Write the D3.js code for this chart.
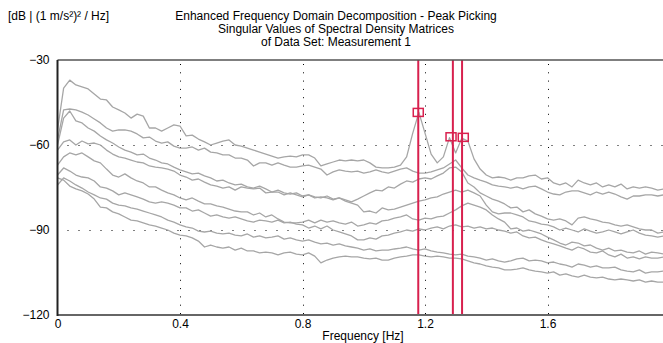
<!DOCTYPE html>
<html>
<head>
<meta charset="utf-8">
<script src="https://cdn.jsdelivr.net/npm/d3@7"></script>
<style>
  html, body { margin: 0; padding: 0; background: #fff; }
  svg text { font-family: "Liberation Sans", Arial, sans-serif; fill: #000; }
</style>
</head>
<body>
<div id="chart"></div>
<script>
// titles and labels
const titleLines = [
  'Enhanced Frequency Domain Decomposition - Peak Picking',
  'Singular Values of Spectral Density Matrices',
  'of Data Set: Measurement 1'
];
const unitLabel = '[dB | (1 m/s\u00b2)\u00b2 / Hz]';
const xLabel = 'Frequency [Hz]';

const xTicks = [0, 0.4, 0.8, 1.2, 1.6];
const yTicks = [-30, -60, -90, -120];
const gridX = [0.4, 0.8, 1.2, 1.6];
const gridY = [-60, -90];

// spectral lines: one value every 0.02 Hz, starting at 0 Hz
const df = 0.02;

const sv1 = [-54.7,-39.9,-37.1,-38.8,-39.5,-40.2,-42.0,-43.8,-44.1,-46.6,
  -47.6,-48.7,-50.5,-49.1,-49.8,-54.0,-54.0,-55.1,-54.0,-52.9,
  -53.3,-56.8,-56.5,-57.9,-58.9,-60.0,-59.3,-58.6,-58.2,-60.0,
  -60.4,-61.1,-61.8,-62.5,-63.2,-63.9,-64.6,-64.2,-63.9,-64.2,
  -63.5,-63.5,-64.6,-67.4,-66.7,-66.0,-65.3,-65.6,-65.3,-65.6,
  -65.3,-66.3,-67.8,-68.1,-68.1,-67.8,-67.1,-64.2,-55.8,-48.5,
  -55.8,-63.2,-66.3,-64.2,-57.4,-62.8,-57.6,-58.6,-64.9,-68.5,
  -70.6,-71.6,-71.3,-71.6,-72.4,-71.6,-71.6,-70.9,-70.6,-72.0,
  -71.6,-73.4,-74.1,-73.4,-74.8,-72.4,-73.4,-74.1,-73.4,-74.8,
  -74.1,-74.8,-73.8,-75.5,-74.8,-75.2,-74.8,-75.2,-75.9,-75.5];

const sv2 = [-58.2,-47.6,-47.3,-47.6,-48.4,-49.4,-50.8,-52.2,-54.0,-55.1,
  -54.7,-54.7,-55.1,-56.1,-57.5,-57.2,-58.6,-59.3,-58.9,-60.4,
  -61.1,-61.1,-60.7,-61.8,-61.1,-62.5,-62.8,-63.5,-63.5,-64.6,
  -64.6,-65.3,-67.4,-66.3,-66.3,-67.1,-66.3,-67.1,-67.8,-67.8,
  -67.4,-67.1,-67.8,-68.5,-70.6,-69.5,-68.8,-69.2,-69.5,-69.2,
  -69.9,-69.5,-68.8,-69.5,-69.9,-69.2,-68.5,-68.1,-69.2,-69.9,
  -69.9,-69.5,-68.8,-68.1,-66.7,-65.3,-68.1,-70.6,-71.6,-72.4,
  -73.1,-74.1,-74.5,-74.8,-75.2,-74.8,-75.5,-74.8,-74.5,-75.5,
  -76.6,-77.3,-77.6,-76.6,-76.2,-76.2,-76.9,-77.6,-76.6,-77.3,
  -76.6,-77.3,-78.3,-79.1,-78.0,-78.0,-77.6,-77.6,-78.0,-77.6];

const sv3 = [-60.0,-50.5,-48.0,-51.5,-52.2,-54.0,-55.1,-56.8,-58.2,-59.3,
  -60.7,-61.8,-62.5,-63.5,-63.2,-64.6,-65.3,-66.3,-66.7,-67.8,
  -68.8,-69.5,-70.2,-69.9,-70.9,-71.6,-72.7,-72.4,-73.4,-74.1,
  -73.8,-74.8,-75.2,-74.5,-75.5,-76.6,-75.9,-76.9,-77.3,-76.9,
  -78.0,-77.6,-78.3,-78.7,-78.0,-79.1,-78.7,-79.4,-80.1,-79.1,
  -78.0,-76.9,-75.9,-76.2,-74.8,-75.2,-73.8,-72.7,-73.1,-72.0,
  -71.6,-72.0,-70.9,-69.9,-68.1,-67.8,-69.5,-73.4,-74.8,-76.9,
  -78.0,-79.1,-79.8,-80.8,-82.2,-81.9,-83.6,-82.9,-84.3,-85.1,
  -86.1,-86.5,-86.1,-86.8,-88.2,-85.8,-85.4,-86.1,-86.5,-87.2,
  -87.5,-88.2,-88.6,-88.2,-88.9,-89.6,-90.0,-90.0,-91.1,-90.7];

const sv4 = [-61.8,-58.9,-58.2,-60.0,-58.6,-59.6,-59.3,-60.0,-61.8,-63.2,
  -64.2,-64.6,-65.3,-66.0,-66.3,-67.4,-67.8,-68.1,-68.5,-69.2,
  -70.6,-71.3,-72.4,-72.0,-73.1,-74.1,-74.5,-75.2,-74.8,-75.9,
  -74.8,-75.2,-75.5,-75.2,-76.9,-76.6,-76.6,-77.6,-76.9,-77.6,
  -78.3,-77.6,-78.7,-78.3,-78.7,-79.4,-78.7,-79.8,-80.5,-81.2,
  -83.6,-83.3,-84.0,-82.2,-82.9,-82.6,-81.9,-81.2,-80.5,-79.8,
  -79.4,-78.7,-78.3,-77.3,-76.6,-75.9,-76.6,-75.9,-76.9,-78.0,
  -81.2,-83.6,-84.3,-84.0,-84.0,-84.7,-85.4,-86.8,-87.2,-87.9,
  -88.2,-88.9,-90.0,-89.3,-90.0,-90.7,-89.6,-90.4,-91.1,-90.7,
  -90.0,-90.7,-91.4,-90.7,-90.0,-91.1,-91.8,-92.1,-92.5,-92.1];

const sv5 = [-67.1,-64.2,-62.8,-63.5,-62.8,-64.2,-65.6,-66.3,-68.5,-70.6,
  -71.3,-70.2,-71.6,-72.7,-73.4,-74.8,-74.8,-75.9,-76.9,-77.6,
  -78.7,-79.4,-78.7,-79.8,-80.8,-80.8,-81.5,-81.9,-82.6,-83.3,
  -83.6,-83.6,-84.7,-84.0,-85.4,-84.7,-86.1,-87.2,-87.5,-87.5,
  -87.2,-86.5,-87.5,-86.5,-87.2,-86.8,-87.5,-87.9,-87.2,-88.6,
  -88.2,-87.5,-87.9,-86.8,-86.5,-85.8,-85.4,-84.7,-86.1,-86.5,
  -85.8,-86.1,-85.4,-85.1,-84.0,-82.9,-81.5,-80.5,-81.2,-81.9,
  -82.9,-84.7,-86.1,-87.2,-89.6,-89.3,-90.4,-90.0,-90.7,-91.4,
  -92.5,-93.5,-94.6,-95.3,-94.3,-94.6,-95.6,-95.3,-96.4,-97.1,
  -96.4,-97.4,-97.1,-97.8,-98.1,-97.4,-98.5,-97.8,-98.1,-98.5];

const sv6 = [-70.6,-68.1,-69.2,-70.6,-71.3,-71.6,-72.7,-74.8,-75.2,-76.2,
  -77.6,-76.9,-77.6,-78.3,-79.1,-80.1,-80.5,-80.1,-80.5,-81.2,
  -82.2,-82.2,-83.3,-82.9,-84.0,-85.1,-84.7,-85.4,-85.8,-85.4,
  -86.1,-86.8,-87.2,-86.5,-86.8,-87.2,-86.5,-87.5,-87.2,-87.9,
  -88.2,-89.3,-88.6,-89.6,-88.6,-90.0,-90.7,-91.4,-92.1,-93.5,
  -93.5,-92.8,-93.2,-92.1,-91.8,-91.1,-90.7,-90.0,-90.4,-89.6,
  -90.0,-89.3,-88.9,-89.6,-88.6,-88.2,-88.9,-88.6,-89.3,-88.9,
  -89.6,-89.3,-90.0,-90.4,-91.1,-90.7,-92.1,-92.8,-92.5,-93.5,
  -94.3,-94.9,-95.6,-96.4,-97.1,-96.0,-96.7,-97.8,-98.1,-97.4,
  -98.8,-99.5,-98.5,-99.9,-99.5,-100.2,-99.5,-99.9,-99.9,-99.5];

const sv7 = [-74.1,-71.6,-72.7,-74.1,-75.2,-76.6,-77.6,-78.7,-79.1,-80.5,
  -81.2,-81.5,-82.2,-82.6,-83.3,-84.0,-84.7,-85.4,-86.5,-87.2,
  -88.2,-88.9,-89.3,-90.4,-90.7,-90.4,-91.1,-91.4,-91.1,-91.8,
  -92.1,-91.4,-92.5,-92.1,-92.8,-92.5,-92.1,-93.2,-92.8,-93.5,
  -93.9,-93.5,-94.3,-94.9,-94.6,-95.3,-94.9,-95.6,-96.0,-96.4,
  -97.1,-96.7,-97.4,-97.1,-97.1,-96.7,-96.4,-96.0,-96.7,-97.1,
  -96.7,-97.4,-97.8,-98.1,-98.5,-98.8,-98.5,-99.2,-99.5,-99.9,
  -100.6,-100.2,-100.9,-101.3,-100.9,-100.2,-99.9,-100.9,-100.6,-100.9,
  -101.6,-101.3,-102.0,-102.4,-103.1,-102.0,-102.4,-103.1,-102.7,-103.4,
  -103.4,-103.1,-104.1,-104.5,-104.8,-104.1,-105.2,-104.8,-104.8,-104.5];

const sv8 = [-71.6,-72.4,-74.5,-75.5,-76.2,-77.3,-79.1,-81.9,-82.2,-83.6,
  -84.3,-85.4,-86.5,-86.8,-87.5,-88.2,-88.6,-89.3,-90.0,-91.1,
  -91.8,-92.1,-92.8,-93.9,-96.0,-95.3,-96.0,-96.4,-96.0,-97.1,
  -96.4,-97.4,-97.4,-98.1,-97.8,-98.1,-98.8,-98.1,-97.8,-98.5,
  -98.8,-98.1,-99.2,-101.6,-100.6,-99.9,-99.5,-99.2,-99.5,-99.5,
  -99.9,-100.2,-99.9,-100.6,-100.6,-99.9,-99.5,-99.2,-98.8,-98.8,
  -99.2,-99.5,-99.2,-99.5,-99.9,-99.9,-100.2,-100.9,-101.6,-102.0,
  -102.7,-103.1,-103.4,-104.1,-104.1,-103.8,-103.4,-104.1,-104.5,-104.8,
  -105.2,-104.8,-105.9,-105.5,-106.2,-106.6,-105.9,-106.6,-106.9,-106.6,
  -107.3,-107.6,-107.3,-107.6,-108.0,-107.6,-108.4,-108.0,-108.4,-108.4];

const singularValues = [sv1, sv2, sv3, sv4, sv5, sv6, sv7, sv8];

// picked modes
const modeFreqs = [1.178, 1.291, 1.321];
const pickFreqs = [1.178, 1.285, 1.325];
const pickValues = [-48.5, -57.1, -57.3];

const width = 663;
const height = 343;
const margin = { top: 60, right: -7, bottom: 28, left: 57.5 };

const svg = d3.select('#chart').append('svg')
  .attr('width', width)
  .attr('height', height)
  .style('display', 'block')
  .style('background', '#fff');

const x = d3.scaleLinear()
  .domain([0, 2])
  .range([margin.left, width - margin.right]);

const y = d3.scaleLinear()
  .domain([-120, -30])
  .range([height - margin.bottom, margin.top]);

svg.append('defs').append('clipPath')
  .attr('id', 'plot-clip')
  .append('rect')
  .attr('x', x(0))
  .attr('y', y(-30))
  .attr('width', width - x(0))
  .attr('height', y(-120) - y(-30));

// dotted grid
svg.append('g')
  .selectAll('line')
  .data(gridX)
  .enter()
  .append('line')
  .attr('x1', d => Math.round(x(d)) + 0.5)
  .attr('x2', d => Math.round(x(d)) + 0.5)
  .attr('y1', y(-30) + 4)
  .attr('y2', y(-120))
  .attr('stroke', '#000')
  .attr('stroke-width', 1)
  .attr('stroke-dasharray', '1,7.3');

svg.append('g')
  .selectAll('line')
  .data(gridY)
  .enter()
  .append('line')
  .attr('x1', x(0) + 10)
  .attr('x2', width)
  .attr('y1', d => Math.round(y(d)) + 0.5)
  .attr('y2', d => Math.round(y(d)) + 0.5)
  .attr('stroke', '#000')
  .attr('stroke-width', 1)
  .attr('stroke-dasharray', '1,10');

// singular value curves
const line = d3.line()
  .x((d, i) => x(i * df))
  .y(d => y(d));

svg.append('g')
  .attr('clip-path', 'url(#plot-clip)')
  .selectAll('path')
  .data(singularValues)
  .enter()
  .append('path')
  .attr('d', line)
  .attr('fill', 'none')
  .attr('stroke', '#a6a6a6')
  .attr('stroke-width', 1.3)
  .attr('stroke-linejoin', 'round');

// picked mode lines
svg.append('g')
  .selectAll('line')
  .data(modeFreqs)
  .enter()
  .append('line')
  .attr('x1', d => x(d))
  .attr('x2', d => x(d))
  .attr('y1', y(-30))
  .attr('y2', y(-120))
  .attr('stroke', '#d8204e')
  .attr('stroke-width', 2);

// peak markers
svg.append('g')
  .selectAll('rect')
  .data(pickFreqs)
  .enter()
  .append('rect')
  .attr('x', d => x(d) - 5)
  .attr('y', (d, i) => y(pickValues[i]) - 4)
  .attr('width', 10)
  .attr('height', 8)
  .attr('fill', 'none')
  .attr('stroke', '#d8204e')
  .attr('stroke-width', 1.5);

// frame
svg.append('line')
  .attr('x1', x(0)).attr('x2', width)
  .attr('y1', y(-30)).attr('y2', y(-30))
  .attr('stroke', '#555').attr('stroke-width', 1.5);
svg.append('line')
  .attr('x1', x(0)).attr('x2', width)
  .attr('y1', y(-120)).attr('y2', y(-120))
  .attr('stroke', '#666').attr('stroke-width', 2);
svg.append('line')
  .attr('x1', x(0)).attr('x2', x(0))
  .attr('y1', y(-30)).attr('y2', y(-120) + 1)
  .attr('stroke', '#222').attr('stroke-width', 2);

// axes (labels only)
const yAxis = svg.append('g')
  .attr('transform', `translate(${x(0)},0)`)
  .call(d3.axisLeft(y).tickValues(yTicks).tickSize(0).tickPadding(8));
yAxis.select('.domain').remove();
yAxis.selectAll('text')
  .style('font-family', '"Liberation Sans", Arial, sans-serif')
  .style('font-size', '12px');

const xAxis = svg.append('g')
  .attr('transform', `translate(0,${y(-120)})`)
  .call(d3.axisBottom(x).tickValues(xTicks).tickSize(0).tickPadding(4)
    .tickFormat(d => d === 0 ? '0' : d3.format('.1f')(d)));
xAxis.select('.domain').remove();
xAxis.selectAll('text')
  .style('font-family', '"Liberation Sans", Arial, sans-serif')
  .style('font-size', '12px');

svg.append('text')
  .attr('x', 363)
  .attr('y', 340)
  .attr('text-anchor', 'middle')
  .style('font-size', '12px')
  .text(xLabel);

svg.append('text')
  .attr('x', 8)
  .attr('y', 20)
  .style('font-size', '12px')
  .text(unitLabel);

svg.append('g')
  .selectAll('text')
  .data(titleLines)
  .enter()
  .append('text')
  .attr('x', 336)
  .attr('y', (d, i) => 20 + i * 13)
  .attr('text-anchor', 'middle')
  .style('font-size', '12px')
  .text(d => d);
</script>
</body>
</html>
